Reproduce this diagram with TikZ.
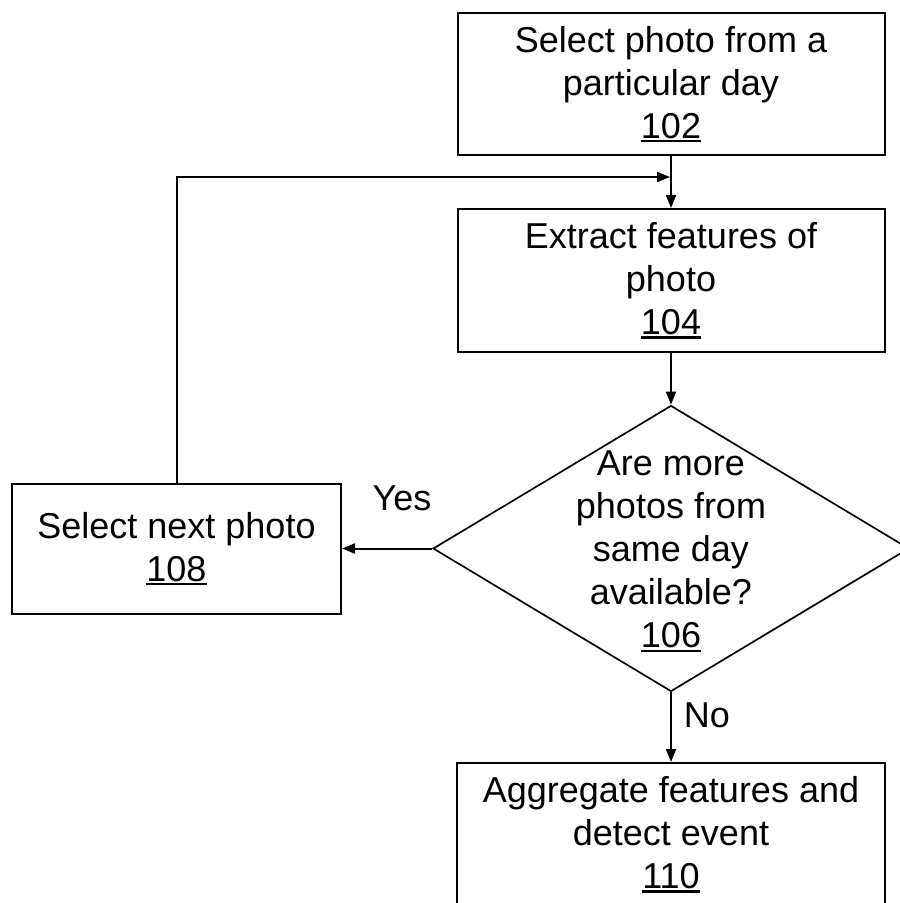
\documentclass[tikz,border=0pt]{standalone}
\usepackage{fontspec}
\setmainfont{Liberation Sans}
\usetikzlibrary{shapes.geometric,arrows.meta}
\newcommand\unum[1]{\setbox0\hbox{#1}\leavevmode\rlap{\rule[-4pt]{\wd0}{2.2pt}}\box0}
\begin{document}
\begin{tikzpicture}[x=1pt,y=-1pt,
  every node/.style={font=\fontsize{36}{43}\selectfont},
  box/.style={draw,line width=2pt,inner sep=0pt,align=center},
  dec/.style={draw,diamond,line width=1.7pt,inner sep=0pt,minimum width=476pt,minimum height=286pt},
  arr/.style={line width=2pt,-{Triangle[length=13pt,width=10pt]}},
  lbl/.style={inner sep=0pt}]
\useasboundingbox (0,0) rectangle (900,903);
\clip (0,0) rectangle (900,903);
\fill[white] (0,0) rectangle (900,903);
\node[box,minimum width=427pt,minimum height=142pt] (b102) at (671,84) {Select photo from a\\particular day\\\unum{102}};
\node[box,minimum width=427pt,minimum height=143pt] (b104) at (671,280.5) {Extract features of\\photo\\\unum{104}};
\node[dec,label={[align=center,yshift=-3pt]center:Are more\\photos from\\same day\\available?\\\unum{106}}] (d106) at (671,548.5) {};
\node[box,minimum width=329pt,minimum height=130pt] (b108) at (176.5,548.5) {Select next photo\\\unum{108}};
\node[box,minimum width=428pt,minimum height=143pt] (b110) at (671,834.5) {Aggregate features and\\detect event\\\unum{110}};
\coordinate (loopend) at (670,177);
\draw[arr] (b102.south) -- (b104.north);
\draw[arr] (b104.south) -- (d106.north);
\draw[arr] (d106.west) -- (b108.east);
\draw[arr] (d106.south) -- (b110.north);
\draw[arr] (b108.north) |- (loopend);
\node[lbl] (yes) at (402,498) {Yes};
\node[lbl] (no) at (707,715) {No};
\end{tikzpicture}
\end{document}
